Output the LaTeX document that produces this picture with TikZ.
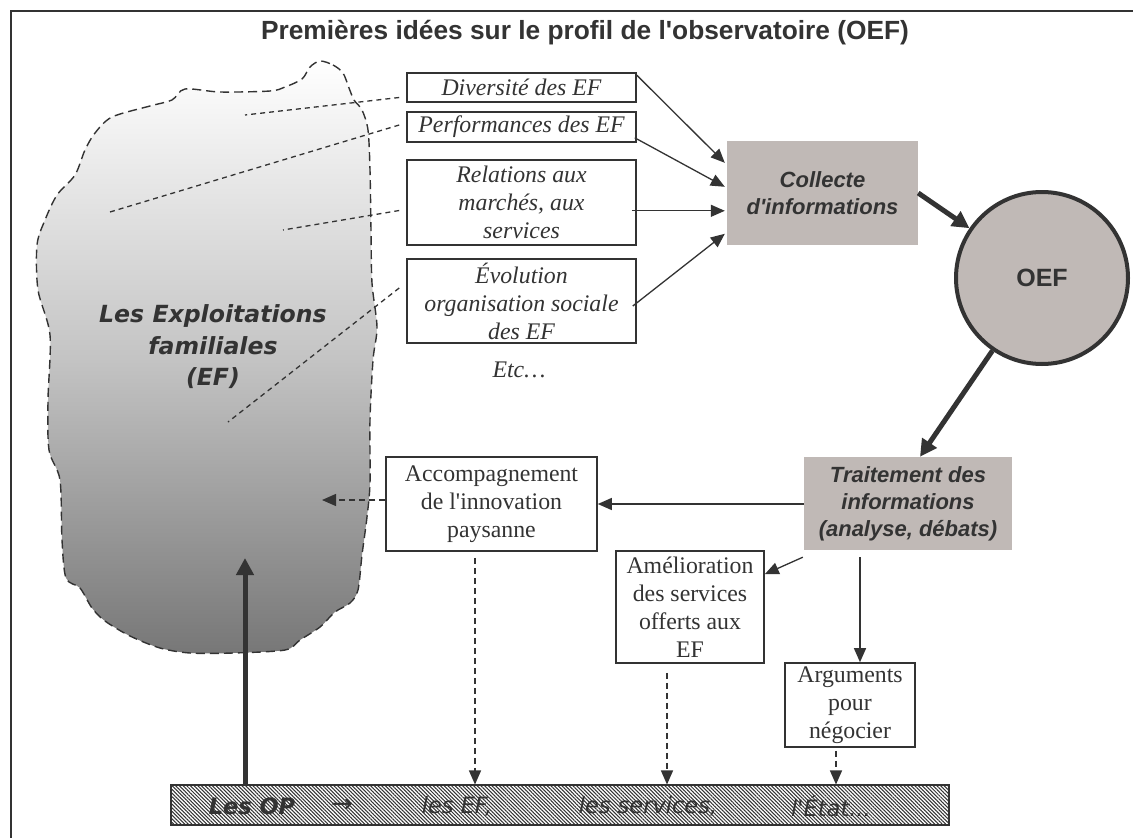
\documentclass[tikz,border=0pt]{standalone}
\usepackage{fontspec}
\setmainfont{Liberation Serif}[Ligatures=TeXOff]
\newfontfamily\arialf{Liberation Sans}[Ligatures=TeXOff]
\newfontfamily\dejavu{DejaVu Sans}[Ligatures=TeXOff]
\usetikzlibrary{arrows.meta,patterns,patterns.meta,calc}
\definecolor{ink}{HTML}{333333}
\definecolor{boxgrey}{RGB}{192,185,182}
\definecolor{blobmid}{HTML}{C4C4C4}
\definecolor{blobbot}{HTML}{777777}
\tikzset{
  every node/.style={text=ink},
  ibox/.style={draw=ink, line width=1.6pt, fill=white, inner sep=0pt, align=center,
    font=\fontsize{23.8}{28}\selectfont\itshape},
  rbox/.style={draw=ink, line width=1.6pt, fill=white, inner sep=0pt, align=center,
    font=\fontsize{23.8}{28}\selectfont},
  gbox/.style={fill=boxgrey, inner sep=0pt, align=center,
    font=\arialf\bfseries\itshape\fontsize{22}{27}\selectfont},
  oefc/.style={circle, draw=ink, line width=4pt, fill=boxgrey, minimum size=172pt, inner sep=0pt,
    font=\arialf\bfseries\fontsize{25}{28}\selectfont},
  bartext/.style={inner sep=0pt, font=\dejavu\itshape\fontsize{22.5}{26}\selectfont},
  thinarrow/.style={draw=ink, line width=1.3pt, -{Triangle[length=14pt,width=12pt]}},
  thickarrow/.style={draw=ink, line width=5pt, -{Triangle[length=17pt,width=17pt]}},
  dasharrow/.style={draw=ink, line width=1.3pt, dash pattern=on 6pt off 4pt, -{Triangle[length=14pt,width=12pt]}},
  guide/.style={draw=ink, line width=1.3pt, dash pattern=on 5pt off 4pt},
}
\begin{document}
\begin{tikzpicture}[x=1pt,y=-1pt]
\useasboundingbox (0,0) rectangle (1133,838);
\clip (0,0) rectangle (1133,838);
\fill[white] (0,0) rectangle (1133,838);
% frame (only left and top edges are inside the picture)
\draw[ink, line width=1.6pt] (11,870) -- (11,11) -- (1170,11);

% blob (Les Exploitations familiales)
\path[draw=ink, line width=1.4pt, dash pattern=on 9pt off 5pt,
      top color=white, bottom color=blobbot, middle color=blobmid]
  plot[smooth cycle, tension=0.5] coordinates {
  (320,61) (333,65) (343,73) (349,88) (354,100) (362,110) (368,130) (370,170)
  (371,230) (372,283) (377,327) (373,360) (370,420) (370,483) (367,517)
  (362,555) (358,590) (350,603) (335,612) (320,627) (300,640) (285,650)
  (233,653) (190,653) (160,648) (130,636) (105,621) (92,608) (80,588)
  (66,578) (62,540) (60,480) (49,450) (48,400) (50,335) (38,290) (37,245)
  (45,220) (57,195) (75,175) (85,150) (95,133) (112,117) (150,106) (172,100)
  (185,89) (220,92) (270,91) (285,87) (302,79) (310,67)};

\node[font=\dejavu\bfseries\itshape\fontsize{23.6}{31.5}\selectfont, align=center] (ef) at (213,347)
  {Les Exploitations\\familiales\\(EF)};

% inner anchor points of the blob
\coordinate (g1) at (245,115);
\coordinate (g2) at (110,212);
\coordinate (g3) at (283,230);
\coordinate (g4) at (228,422);
\coordinate (accin) at (322,500);
\coordinate (opt) at (245,558);

% title
\node[font=\arialf\bfseries\fontsize{26.3}{30}\selectfont] (title) at (585,33)
  {Premières idées sur le profil de l'observatoire (OEF)};

% left column boxes
\node[ibox, minimum width=229pt, minimum height=29pt] (div) at (521.5,87.5) {Diversité des EF};
\node[ibox, minimum width=229pt, minimum height=30pt] (perf) at (521.5,127) {Performances des EF};
\node[ibox, minimum width=229pt, minimum height=85pt] (rel) at (521.5,202.5) {Relations aux\\marchés, aux\\services};
\node[ibox, minimum width=229pt, minimum height=84pt] (evo) at (521.5,301) {Évolution\\organisation sociale\\des EF};
\node[font=\fontsize{23.8}{28}\selectfont\itshape] (etc) at (519,370) {Etc…};

% guides into the blob
\draw[guide] ($(div.west)+(-7,10)$) -- (g1);
\draw[guide] ($(perf.west)+(-7,-2)$) -- (g2);
\draw[guide] ($(rel.west)+(-7,8)$) -- (g3);
\draw[guide] ($(evo.west)+(-7,-13)$) -- (g4);

% process
\node[gbox, minimum width=191pt, minimum height=104pt] (col) at (822.5,193) {Collecte\\d'informations};
\node[oefc] (oef) at (1042,278) {OEF};
\node[gbox, minimum width=208pt, minimum height=93pt] (trt) at (908,503.5) {Traitement des\\informations\\(analyse, débats)};

% outputs
\node[rbox, minimum width=211pt, minimum height=94pt] (acc) at (491.5,504) {Accompagnement\\de l'innovation\\paysanne};
\node[rbox, minimum width=148pt, minimum height=112pt] (ame) at (690,607) {Amélioration\\des services\\offerts aux\\EF};
\node[rbox, minimum width=130pt, minimum height=84pt] (arg) at (850,705) {Arguments\\pour\\négocier};

% hatched bar
\node[draw=ink, line width=1.6pt, pattern={Lines[angle=-45,distance=2.6pt,line width=1.05pt]}, pattern color=ink,
      minimum width=778pt, minimum height=40pt, inner sep=0pt] (bar) at (560,805) {};
\node[bartext, font=\dejavu\bfseries\itshape\fontsize{22.5}{26}\selectfont] (op) at (252,806) {Les OP};
\node[bartext, font=\dejavu\itshape\fontsize{26}{28}\selectfont] (to) at (342,806) {→};
\node[bartext] (lef) at (457,806) {les EF,};
\node[bartext] (lsv) at (648,806) {les services,};
\node[bartext] (let) at (831,806) {l'État...};

% arrows into collecte
\draw[thinarrow] ($(div.north east)+(0,3)$) -- ($(col.north west)+(-2,22)$);
\draw[thinarrow] ($(perf.south east)+(-2,-5)$) -- ($(col.north west)+(-2,46)$);
\draw[thinarrow] ($(col.north west)+(-95,70)$) -- ($(col.north west)+(-2,70)$);
\draw[thinarrow] ($(evo.east)+(-4,5)$) -- ($(col.north west)+(-2,93)$);

% thick arrows
\draw[thickarrow] (col.east) -- (oef);
\draw[thickarrow] (oef) -- ($(trt.north)+(12,0)$);
\draw[thickarrow] (bar.north -| opt) -- (opt);

% from traitement
\coordinate (targ) at ($(trt.south)+(-48,7)$);
\draw[thinarrow] (trt.west |- acc.east) -- (acc.east);
\draw[thinarrow] ($(trt.south west)+(-1,7)$) -- ($(ame.north east)+(0,24)$);
\draw[thinarrow] (targ) -- (targ |- arg.north);

% dashed arrows
\coordinate (dacc) at ($(acc.south)+(-16.5,6)$);
\coordinate (dame) at ($(ame.south)+(-23,9)$);
\coordinate (darg) at ($(arg.south)+(-14,3)$);
\draw[dasharrow] (acc.west |- accin) -- (accin);
\draw[dasharrow] (dacc) -- (dacc |- bar.north);
\draw[dasharrow] (dame) -- (dame |- bar.north);
\draw[dasharrow] (darg) -- (darg |- bar.north);
\end{tikzpicture}
\end{document}
